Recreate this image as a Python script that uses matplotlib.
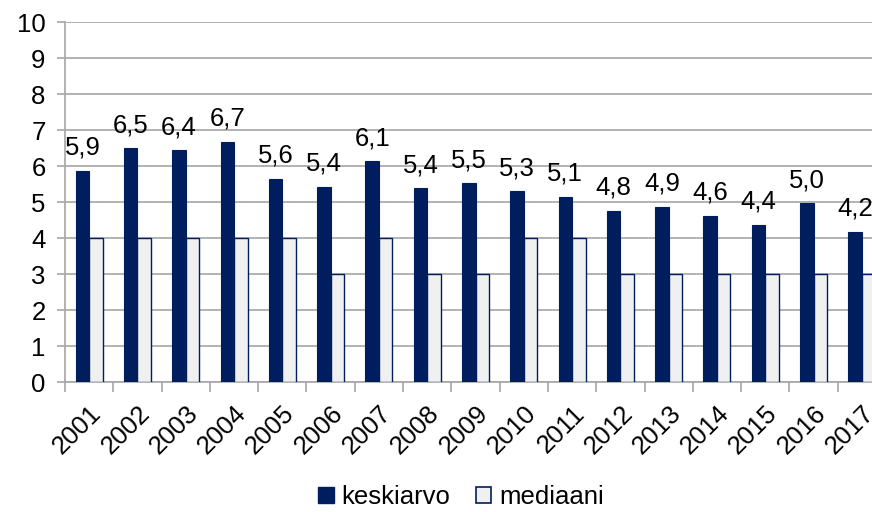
import numpy as np
import matplotlib.pyplot as plt
from matplotlib.patches import Patch

plt.rcParams['font.family'] = ['Liberation Sans', 'DejaVu Sans']

years = ['2001', '2002', '2003', '2004', '2005', '2006', '2007', '2008', '2009',
         '2010', '2011', '2012', '2013', '2014', '2015', '2016', '2017']
keskiarvo = [5.87, 6.49, 6.44, 6.68, 5.64, 5.42, 6.13, 5.38, 5.52,
             5.30, 5.14, 4.76, 4.87, 4.62, 4.36, 4.96, 4.17]
mediaani = [4, 4, 4, 4, 4, 3, 4, 3, 3, 4, 4, 3, 3, 3, 3, 3, 3]

navy = '#001E5E'
grid_col = '#A6A6A6'
fs = 18.5

fig = plt.figure(figsize=(8.72, 5.12), dpi=100)
ax = fig.add_axes([65 / 872, 1 - 382 / 512, 821 / 872, 360 / 512])

x = np.arange(len(years))
w = 0.28
ax.bar(x - w / 2, keskiarvo, w, color=navy, edgecolor=navy, linewidth=0.8, zorder=3)
ax.bar(x + w / 2, mediaani, w, color='#F0F0F0', edgecolor=navy, linewidth=1.0, zorder=3)

for xi, v in zip(x, keskiarvo):
    ax.annotate(f'{v:.1f}'.replace('.', ','), (xi - w / 2, v), xytext=(0, 8),
                textcoords='offset points', ha='center', va='bottom', fontsize=fs)

ax.set_xlim(-0.5, len(years) - 0.5)
ax.set_ylim(0, 10)
ax.set_yticks(range(0, 11))
ax.yaxis.grid(True, color=grid_col, linewidth=1.2, zorder=0)
ax.tick_params(axis='y', labelsize=fs, color=grid_col, length=6, width=1.2, pad=8)

ax.set_xticks(x)
ax.set_xticklabels(years, rotation=45, ha='right', rotation_mode='anchor', fontsize=fs)
ax.set_xticks(np.arange(-0.5, len(years)), minor=True)
ax.tick_params(axis='x', which='major', length=0, pad=14)
ax.tick_params(axis='x', which='minor', length=7, color=grid_col, width=1.2)

for s in ['top', 'right']:
    ax.spines[s].set_visible(False)
ax.spines['left'].set_color(grid_col)
ax.spines['left'].set_linewidth(1.2)
ax.spines['bottom'].set_color(grid_col)
ax.spines['bottom'].set_linewidth(1.2)

handles = [Patch(facecolor=navy, edgecolor=navy, label='keskiarvo'),
           Patch(facecolor='#F0F0F0', edgecolor=navy, linewidth=1.2, label='mediaani')]
fig.legend(handles=handles, loc='center', bbox_to_anchor=(461 / 872, 1 - 497 / 512),
           ncol=2, frameon=False, fontsize=fs, handlelength=0.6, handleheight=0.6,
           handletextpad=0.3, columnspacing=1.0)

fig.savefig('out.png', dpi=100)
